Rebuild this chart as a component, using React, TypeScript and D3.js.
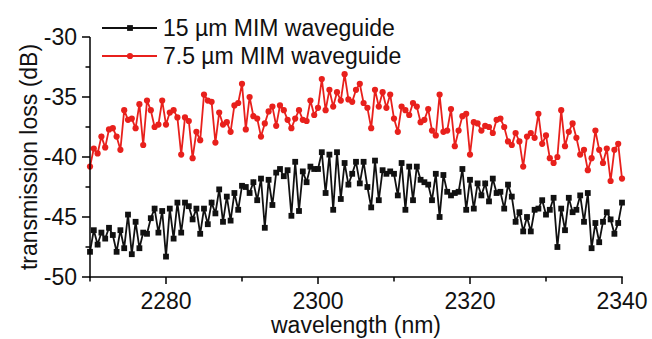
import React from "react";
import * as d3 from "d3";

const START_NM = 2270;
const STEP_NM = 0.5;

const series15 = [
  -47.9, -46.1, -47.3, -46.3, -46.8, -45.9, -46.5, -47.9, -46.1, -47.6,
  -44.8, -48.1, -45.4, -47.6, -46.3, -46.4, -45.1, -44.3, -46.3, -44.5,
  -48.3, -44.3, -46.8, -43.8, -46.3, -43.8, -44.1, -45.2, -44.3, -46.4,
  -44.3, -45.6, -43.8, -44.7, -42.7, -45.4, -43.3, -45.3, -43.0, -44.4,
  -42.4, -42.5, -43.0, -42.1, -43.6, -41.8, -45.9, -41.9, -44.0, -41.3,
  -41.0, -41.6, -41.1, -44.9, -40.4, -44.5, -41.2, -42.1, -40.8, -41.0,
  -41.0, -39.6, -43.0, -39.8, -44.4, -39.6, -43.5, -40.5, -42.3, -41.4,
  -40.4, -42.2, -40.4, -42.5, -44.2, -40.3, -43.6, -41.1, -41.4, -41.2,
  -41.4, -43.2, -40.5, -44.4, -40.8, -43.6, -40.8, -41.9, -42.1, -42.3,
  -43.6, -41.4, -45.0, -41.5, -42.9, -43.2, -43.0, -42.9, -41.0, -44.4,
  -41.9, -44.3, -42.2, -43.2, -42.2, -43.7, -41.8, -43.0, -42.9, -44.3,
  -42.3, -43.3, -45.4, -44.6, -46.2, -45.0, -46.2, -44.4, -44.3, -43.6,
  -44.8, -44.4, -43.4, -47.5, -44.3, -46.1, -43.4, -44.6, -44.4, -43.2,
  -45.4, -43.0, -47.6, -45.5, -47.1, -45.4, -44.6, -45.2, -46.4, -45.5,
  -43.8,
];

const series75 = [
  -40.8, -39.3, -39.7, -38.3, -39.2, -37.7, -37.6, -38.3, -39.4, -36.1,
  -36.9, -36.8, -37.6, -35.6, -39.0, -35.3, -36.1, -37.5, -37.3, -35.3,
  -37.3, -36.3, -36.1, -36.7, -39.8, -36.7, -37.0, -40.1, -37.9, -38.6,
  -34.8, -35.3, -35.4, -38.8, -36.3, -37.3, -37.1, -37.9, -35.7, -35.5,
  -33.9, -37.7, -35.0, -36.6, -36.8, -38.3, -37.2, -36.2, -35.8, -37.4,
  -35.7, -36.1, -36.9, -37.6, -36.8, -36.1, -36.9, -37.0, -35.3, -36.5,
  -35.9, -33.5, -36.1, -34.4, -35.8, -34.6, -35.3, -33.1, -35.2, -35.4,
  -34.4, -33.9, -35.5, -35.9, -37.6, -34.4, -35.8, -34.6, -35.9, -34.8,
  -36.8, -37.9, -35.8, -36.1, -36.5, -35.5, -35.8, -37.1, -36.9, -36.0,
  -37.8, -38.2, -34.8, -37.9, -37.8, -36.0, -39.1, -37.8, -36.6, -36.4,
  -39.8, -37.1, -37.2, -37.8, -37.4, -37.5, -38.0, -36.9, -36.8, -37.5,
  -38.7, -39.0, -38.0, -38.7, -40.8, -38.3, -38.0, -38.4, -36.4, -38.9,
  -38.2, -40.1, -40.5, -40.0, -36.1, -39.1, -37.9, -37.2, -38.4, -39.8,
  -39.4, -41.1, -40.1, -37.8, -39.4, -40.5, -39.3, -42.0, -39.4, -38.9,
  -41.8,
];

const xMajorTicks = [2280, 2300, 2320, 2340];
const xMinorTicks = [2270, 2290, 2310, 2330];
const yMajorTicks = [-30, -35, -40, -45, -50];
const yMinorTicks = [-32.5, -37.5, -42.5, -47.5];

const legendLabels = ["15 \u00b5m MIM waveguide", "7.5 \u00b5m MIM waveguide"];
const xTitle = "wavelength (nm)";
const yTitle = "transmission loss (dB)";

const BLACK = "#111111";
const RED = "#e8201c";
const FONT = "'Liberation Sans', Arial, sans-serif";
const FS = 23;
const SQ = 5.8;
const CR = 3.1;
const LW = 1.8;

export default function App() {
  const W = 652;
  const H = 339;
  const x = d3.scaleLinear().domain([2270, 2340]).range([90, 622]);
  const y = d3.scaleLinear().domain([-50, -30]).range([277, 37]);

  const toPts = (arr: number[]) =>
    arr.map((v, i) => [START_NM + i * STEP_NM, v] as [number, number]);
  const line = d3
    .line<[number, number]>()
    .x((d) => x(d[0]))
    .y((d) => y(d[1]));

  const pts15 = toPts(series15);
  const pts75 = toPts(series75);
  const axisY = y(-50);
  const axisX = x(2270);

  return (
    <svg
      width={W}
      height={H}
      style={{ position: "absolute", left: 0, top: 0, background: "#fff" }}
      fontFamily={FONT}
    >
      <rect width={W} height={H} fill="#fff" />
      {/* series */}
      <path d={line(pts75) || ""} fill="none" stroke={RED} strokeWidth={LW} />
      {pts75.map((d, i) => (
        <circle key={"r" + i} cx={x(d[0])} cy={y(d[1])} r={CR} fill={RED} />
      ))}
      <path d={line(pts15) || ""} fill="none" stroke={BLACK} strokeWidth={LW} />
      {pts15.map((d, i) => (
        <rect
          key={"b" + i}
          x={x(d[0]) - SQ / 2}
          y={y(d[1]) - SQ / 2}
          width={SQ}
          height={SQ}
          fill={BLACK}
        />
      ))}

      {/* axes */}
      <line x1={axisX} x2={axisX} y1={y(-30)} y2={axisY + 0.75} stroke="#000" strokeWidth={1.5} />
      <line x1={axisX - 0.75} x2={x(2340) + 0.75} y1={axisY} y2={axisY} stroke="#000" strokeWidth={1.5} />
      {yMajorTicks.map((t) => (
        <g key={"ym" + t}>
          <line x1={axisX - 8} x2={axisX} y1={y(t)} y2={y(t)} stroke="#000" strokeWidth={1.5} />
          <text
            x={axisX - 13}
            y={y(t)}
            dy="0.35em"
            textAnchor="end"
            fontSize={FS}
            fill="#111"
          >
            {t}
          </text>
        </g>
      ))}
      {yMinorTicks.map((t) => (
        <line key={"yn" + t} x1={axisX - 4.5} x2={axisX} y1={y(t)} y2={y(t)} stroke="#000" strokeWidth={1.5} />
      ))}
      {xMajorTicks.map((t) => (
        <g key={"xm" + t}>
          <line x1={x(t)} x2={x(t)} y1={axisY} y2={axisY + 7} stroke="#000" strokeWidth={1.5} />
          <text x={x(t)} y={axisY + 32} textAnchor="middle" fontSize={FS} fill="#111">
            {t}
          </text>
        </g>
      ))}
      {xMinorTicks.map((t) => (
        <line key={"xn" + t} x1={x(t)} x2={x(t)} y1={axisY} y2={axisY + 4.5} stroke="#000" strokeWidth={1.5} />
      ))}

      {/* titles */}
      <text x={(x(2270) + x(2340)) / 2} y={333} textAnchor="middle" fontSize={FS} fill="#111">
        {xTitle}
      </text>
      <text
        transform={`translate(37, ${(y(-30) + y(-50)) / 2}) rotate(-90)`}
        textAnchor="middle"
        fontSize={FS}
        fill="#111"
      >
        {yTitle}
      </text>

      {/* legend */}
      <g>
        <line x1={102} x2={157} y1={28} y2={28} stroke={BLACK} strokeWidth={LW} />
        <rect x={130 - SQ / 2} y={28 - SQ / 2} width={SQ} height={SQ} fill={BLACK} />
        <text x={163} y={28} dy="0.35em" fontSize={FS} fill="#111">
          {legendLabels[0]}
        </text>
        <line x1={102} x2={157} y1={56} y2={56} stroke={RED} strokeWidth={LW} />
        <circle cx={130} cy={56} r={CR} fill={RED} />
        <text x={163} y={56} dy="0.35em" fontSize={FS} fill="#111">
          {legendLabels[1]}
        </text>
      </g>
    </svg>
  );
}
